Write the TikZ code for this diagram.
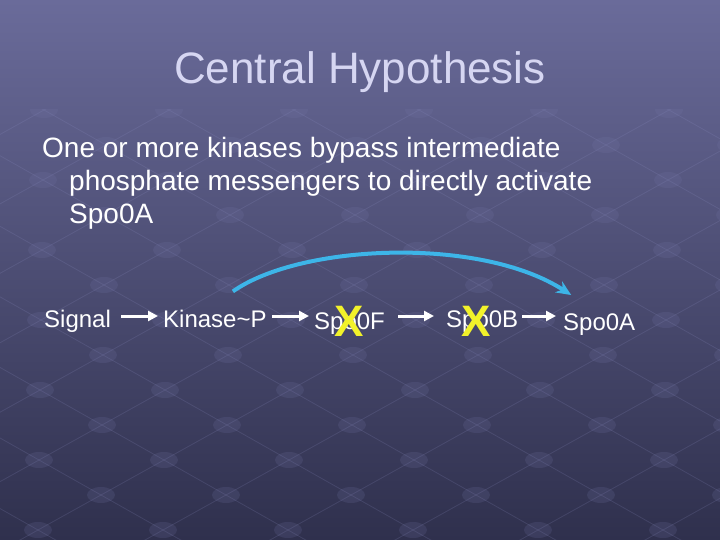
\documentclass[tikz,border=0pt]{standalone}
\usepackage{fontspec}
\setmainfont{Liberation Sans}
\usetikzlibrary{arrows.meta}

\definecolor{slidetop}{HTML}{6A6B9A}
\definecolor{slidebot}{HTML}{2F304D}
\definecolor{titlefg}{HTML}{D6D6F2}
\definecolor{bypassblue}{HTML}{3DB5E8}
\definecolor{crossyellow}{HTML}{F2F22A}
\definecolor{gridline}{HTML}{9092C6}
\definecolor{gridknob}{HTML}{7678AA}

\tikzset{
	stage/.style={text=white, font=\fontsize{24}{28}\selectfont, anchor=base west, inner sep=0pt},
	flow/.style={white, line width=3pt, -{Triangle[length=10pt,width=10pt]}},
	cross/.style={text=crossyellow, font=\fontsize{44}{50}\selectfont\bfseries, inner sep=0pt},
	bypass/.style={bypassblue, line width=4pt, -{Stealth[length=15pt,width=13pt]}}
}

\begin{document}
\begin{tikzpicture}[x=1pt, y=-1pt]
		\useasboundingbox (0,0) rectangle (720,540);
		\fill[top color=slidetop, bottom color=slidebot] (0,0) rectangle (720,540);

		% background lattice
		\begin{scope}[opacity=0.18]
			\clip (0,110) rectangle (720,540);
			\foreach \j in {-12,...,12} {
				\draw[gridline, line width=0.8pt] ({40-63*\j-930},{390+35*\j-525}) -- ({40-63*\j+930},{390+35*\j+525});
				\draw[gridline, line width=0.8pt] ({40+62*\j+945},{390+35*\j-525}) -- ({40+62*\j-945},{390+35*\j+525});
			}
			\foreach \i in {-9,...,9}
				\foreach \j in {-9,...,9}
					\fill[gridknob] ({40+62*\i-63*\j},{390+35*\i+35*\j}) ellipse (14pt and 8pt);
		\end{scope}

		\node[text=titlefg, font=\fontsize{44}{50}\selectfont, anchor=base, inner sep=0pt] (title) at (360,84) {Central Hypothesis};
		\node[text=white, font=\fontsize{28}{33}\selectfont, anchor=north west, align=left, inner sep=0pt] (claim) at (42,137.5)
			{One or more kinases bypass intermediate\\
			\hspace*{27pt}phosphate messengers to directly activate\\
			\hspace*{27pt}Spo0A};

		\node[stage] (sig) at (44,327) {Signal};
		\node[stage] (kin) at (163,327) {Kinase\textasciitilde P};
		\node[stage] (spoF) at (314,329) {Spo0F};
		\node[stage] (spoB) at (446,327) {Spo0B};
		\node[stage] (spoA) at (563,330) {Spo0A};
		\coordinate (row) at (0,316);

		\path (sig.east |- row) edge[flow, shorten <=10pt, shorten >=5pt] (kin.west |- row)
		(kin.east |- row) edge[flow, shorten <=5pt, shorten >=5pt] (spoF.west |- row)
		(spoF.east |- row) edge[flow, shorten <=13pt, shorten >=12pt] (spoB.west |- row)
		(spoB.east |- row) edge[flow, shorten <=4pt, shorten >=7pt] (spoA.west |- row);

		\node[cross] (xF) at (349,321) {X};
		\node[cross] (xB) at (476,321) {X};

		\draw[bypass] ([xshift=18pt,yshift=18pt]kin.north) .. controls (300,244) and (480,236) .. ([xshift=-28pt,yshift=18pt]spoA.north);

	\end{tikzpicture}
\end{document}
